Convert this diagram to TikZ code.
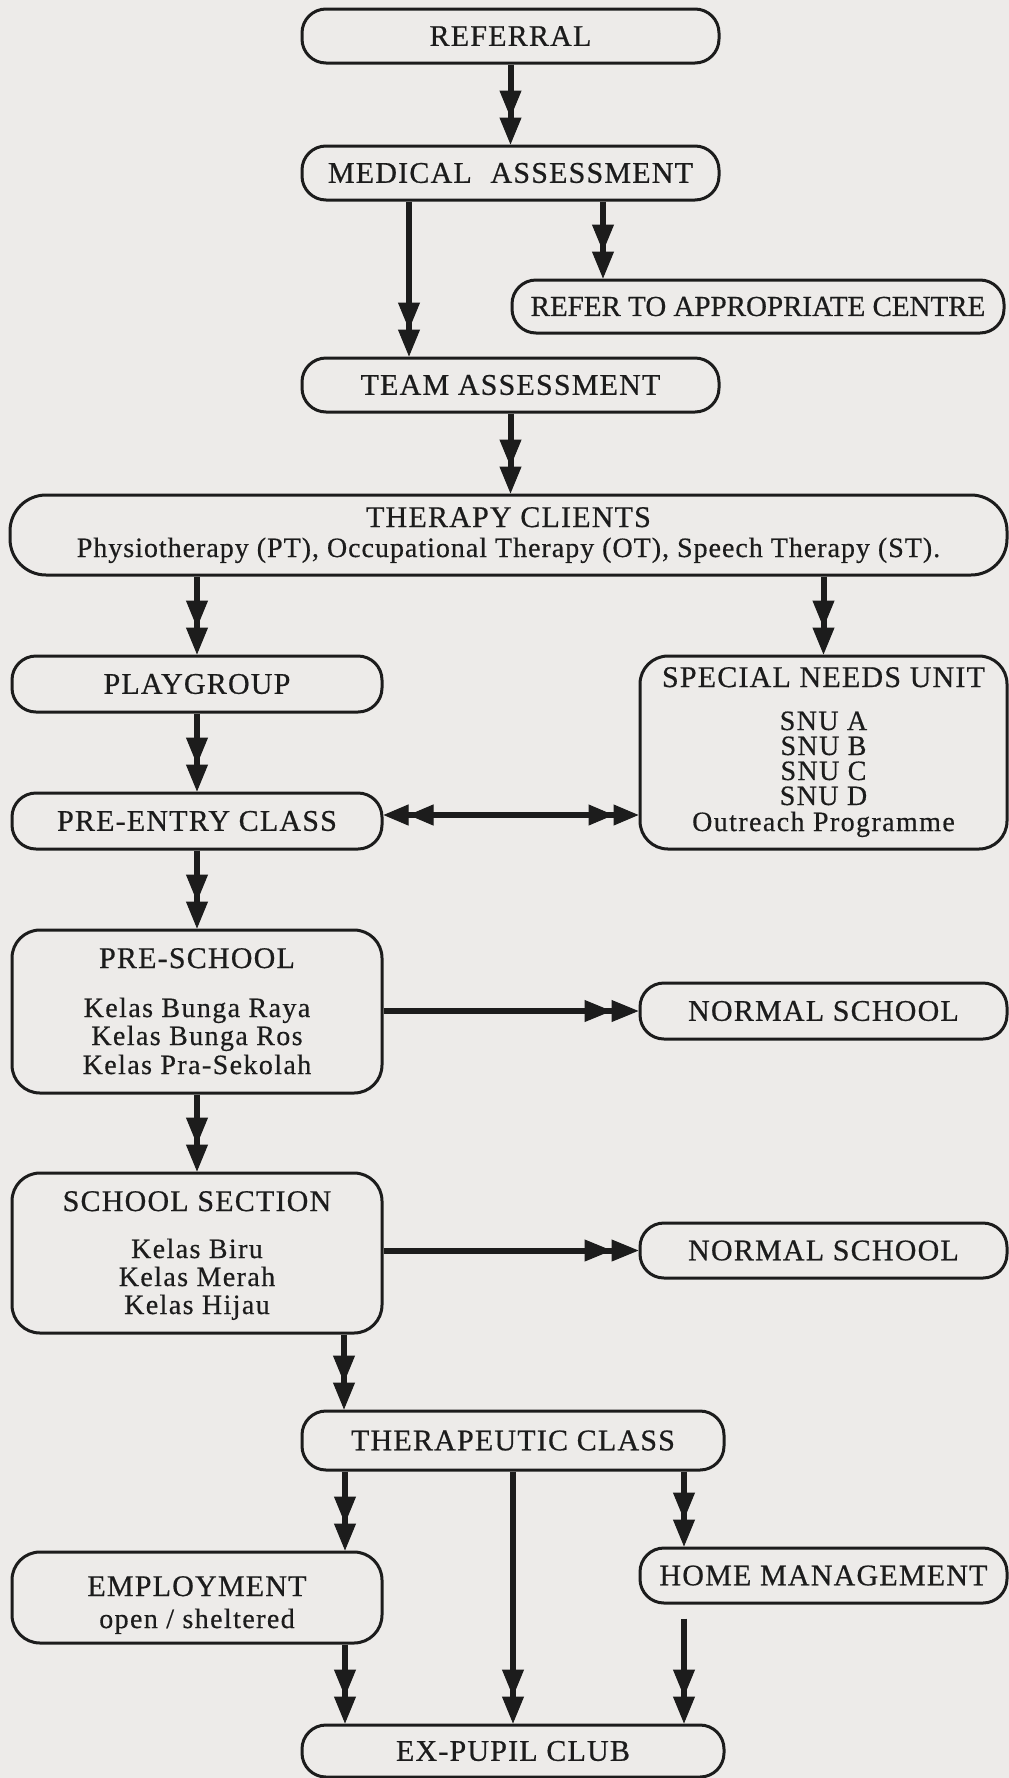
\documentclass[tikz,border=0pt]{standalone}
\usepackage{fontspec}
\setmainfont{Liberation Serif}
\newfontfamily\capf{Liberation Serif}[LetterSpace=4,FakeBold=0.6]
\newfontfamily\capn{Liberation Serif}[LetterSpace=0,FakeBold=0.6]
\newfontfamily\lowf{Liberation Serif}[LetterSpace=5,FakeBold=0.5]
\newfontfamily\subf{Liberation Serif}[LetterSpace=3.5,FakeBold=0.5]
\usetikzlibrary{arrows.meta,calc}
\definecolor{bg}{RGB}{237,235,233}
\definecolor{ink}{RGB}{28,28,28}
\tikzset{
  lbl/.style={font=\capf\fontsize{30}{32}\selectfont, text=ink},
  capline/.style={font=\capf\fontsize{30}{32}\selectfont, text=ink, anchor=base, inner sep=0pt},
  lowline/.style={font=\lowf\fontsize{28}{30}\selectfont, text=ink, anchor=base, inner sep=0pt},
  subline/.style={font=\subf\fontsize{28}{30}\selectfont, text=ink, anchor=base, inner sep=0pt},
  pill/.style={draw=ink, line width=3pt, fill=bg, rounded corners=24pt, inner sep=0pt, lbl},
  card/.style={draw=ink, line width=3pt, fill=bg, rounded corners=28pt, inner sep=0pt},
  arr/.style={draw=ink, line width=6pt,
    -{Triangle[length=27pt,width=22pt,line width=1pt]Triangle[length=27pt,width=22pt,line width=1pt]}},
  biarr/.style={draw=ink, line width=6pt,
    {Triangle[length=25pt,width=21pt,line width=1pt]Triangle[length=25pt,width=21pt,line width=1pt]}-{Triangle[length=25pt,width=21pt,line width=1pt]Triangle[length=25pt,width=21pt,line width=1pt]}},
}
\begin{document}
\begin{tikzpicture}[x=1pt,y=-1pt]
\fill[bg] (0,0) rectangle (1009,1778);
\useasboundingbox (0,0) rectangle (1009,1778);

% boxes
\node[pill, minimum width=417pt, minimum height=54pt] (referral) at (510.5,36) {REFERRAL};
\node[pill, minimum width=417pt, minimum height=54pt] (medical) at (510.5,173) {MEDICAL\hspace{10pt} ASSESSMENT};
\node[pill, minimum width=492pt, minimum height=53pt, font=\capn\fontsize{29}{31}\selectfont] (refer) at (758,306.5) {REFER TO APPROPRIATE CENTRE};
\node[pill, minimum width=417pt, minimum height=54pt] (team) at (510.5,385) {TEAM ASSESSMENT};

\node[card, rounded corners=36pt, minimum width=997pt, minimum height=80pt] (therapy) at (508.5,535) {};
\node[capline] (therapyT) at (508.5,527) {THERAPY CLIENTS};
\node[subline] (therapyS) at (508.5,557) {Physiotherapy (PT), Occupational Therapy (OT), Speech Therapy (ST).};

\node[pill, minimum width=370pt, minimum height=56pt] (playgroup) at (197,684) {PLAYGROUP};

\node[card, minimum width=367pt, minimum height=193pt] (snu) at (823.5,752.5) {};
\node[capline] (snuT) at (823.5,687) {SPECIAL NEEDS UNIT};
\node[lowline] (snuA) at (823.5,730) {SNU A};
\node[lowline] (snuB) at (823.5,755) {SNU B};
\node[lowline] (snuC) at (823.5,780) {SNU C};
\node[lowline] (snuD) at (823.5,805) {SNU D};
\node[lowline] (snuO) at (823.5,831) {Outreach Programme};

\node[pill, minimum width=370pt, minimum height=56pt] (preentry) at (197,821) {PRE-ENTRY CLASS};

\node[card, minimum width=370pt, minimum height=163pt] (preschool) at (197,1011.5) {};
\node[capline] (preschoolT) at (197,968) {PRE-SCHOOL};
\node[lowline] (ps1) at (197,1017) {Kelas Bunga Raya};
\node[lowline] (ps2) at (197,1045) {Kelas Bunga Ros};
\node[lowline] (ps3) at (197,1074) {Kelas Pra-Sekolah};

\node[pill, minimum width=367pt, minimum height=56pt] (ns1) at (823.5,1011) {NORMAL SCHOOL};

\node[card, minimum width=370pt, minimum height=160pt] (school) at (197,1253) {};
\node[capline] (schoolT) at (197,1211) {SCHOOL SECTION};
\node[lowline] (sc1) at (197,1258) {Kelas Biru};
\node[lowline] (sc2) at (197,1286) {Kelas Merah};
\node[lowline] (sc3) at (197,1314) {Kelas Hijau};

\node[pill, minimum width=367pt, minimum height=55pt] (ns2) at (823.5,1250.5) {NORMAL SCHOOL};

\node[pill, minimum width=422pt, minimum height=59pt] (therapeutic) at (513,1440.5) {THERAPEUTIC CLASS};

\node[card, minimum width=370pt, minimum height=91pt] (employment) at (197,1597.5) {};
\node[capline] (employmentT) at (197,1596) {EMPLOYMENT};
\node[lowline] (employmentS) at (197,1628) {open / sheltered};

\node[pill, minimum width=367pt, minimum height=55pt] (home) at (823.5,1575.5) {HOME MANAGEMENT};

\node[pill, minimum width=422pt, minimum height=52pt] (expupil) at (513,1751) {EX-PUPIL CLUB};

% connectors
\draw[arr] (referral.south) -- (medical.north);
\draw[arr] ([xshift=-101.5pt]medical.south) -- ([xshift=-101.5pt]team.north);
\draw[arr] ([xshift=92.5pt]medical.south) -- ([xshift=92.5pt]medical.south |- refer.north);
\draw[arr] (team.south) -- (team.south |- therapy.north);
\draw[arr] (therapy.south -| playgroup.north) -- (playgroup.north);
\draw[arr] (therapy.south -| snu.north) -- (snu.north);
\draw[arr] (playgroup.south) -- (preentry.north);
\draw[arr] (preentry.south) -- (preschool.north);
\draw[arr] (preschool.south) -- (school.north);
\draw[biarr] ([yshift=6pt]preentry.east) -- ([yshift=6pt]preentry.east -| snu.west);
\draw[arr] (preschool.east |- ns1.west) -- (ns1.west);
\draw[arr] (school.east |- ns2.west) -- (ns2.west);
\draw[arr] ([xshift=147pt]school.south) -- ([xshift=147pt]school.south |- therapeutic.north);
\draw[arr] ([xshift=-168pt]therapeutic.south) -- ([xshift=-168pt]therapeutic.south |- employment.north);
\draw[arr] (therapeutic.south) -- (expupil.north);
\draw[arr] ([xshift=171pt]therapeutic.south) -- ([xshift=171pt]therapeutic.south |- home.north);
\draw[arr] ([xshift=-168pt]expupil.north |- employment.south) -- ([xshift=-168pt]expupil.north);
\draw[arr, shorten <=14pt] ([xshift=171pt]expupil.north |- home.south) -- ([xshift=171pt]expupil.north);
\end{tikzpicture}
\end{document}
